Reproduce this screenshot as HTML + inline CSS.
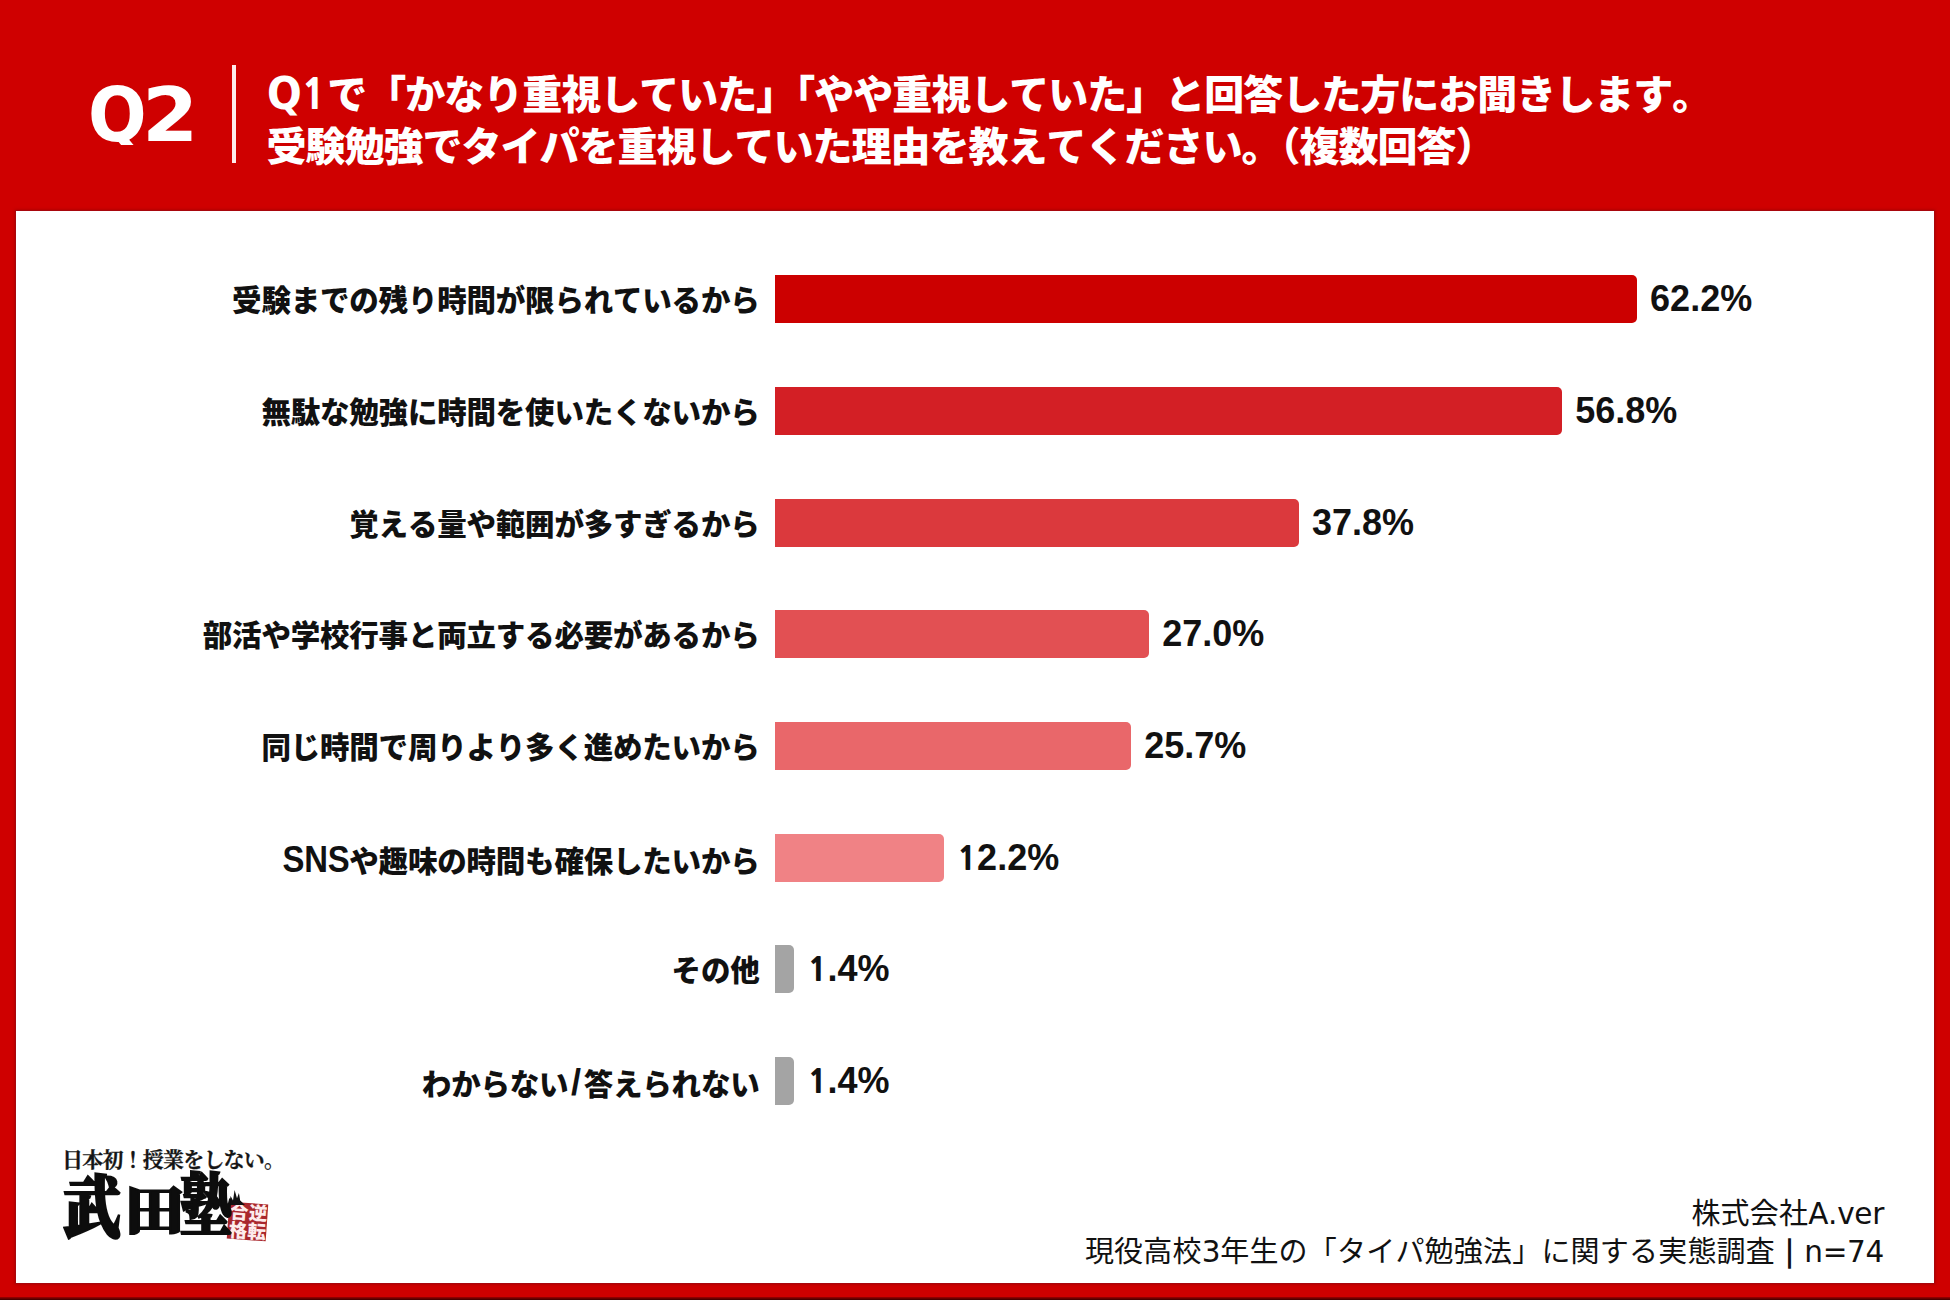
<!DOCTYPE html>
<html lang="ja">
<head>
<meta charset="utf-8">
<style>
*{margin:0;padding:0;box-sizing:border-box;}
html,body{width:1950px;height:1300px;overflow:hidden;}
body{background:#cf0000;position:relative;font-family:"Liberation Sans","Noto Sans CJK JP",sans-serif;}
.abs{position:absolute;white-space:nowrap;}
#panel{position:absolute;left:16px;top:211px;width:1918px;height:1072px;background:#fff;box-shadow:0 0 0 1px #a8070d,0 0 3px 1px rgba(120,0,0,.5);}
#botline{position:absolute;left:0;top:1297px;width:1950px;height:3px;background:linear-gradient(#a00000,#3a0000);}
.q1{font-size:47px;letter-spacing:-0.5px;}
.qq{font-family:"DejaVu Sans",sans-serif;font-size:44px;display:inline-block;transform:scaleX(.93);transform-origin:0 0;margin-right:-2px;}
.trim{margin-left:-20px;}
.lt{font-size:36.5px;display:inline-block;transform:scaleX(.9);transform-origin:100% 50%;}
.one{font-family:"NanumGothic","Liberation Sans",sans-serif;font-weight:800;font-size:33.5px;margin-right:-0.3px;}
.one1{font-family:"NanumGothic","Liberation Sans",sans-serif;font-weight:800;font-size:41px;margin-right:1.5px;}
.sl{font-size:36px;margin:0 3px 0 2.5px;}
.bar2{font-weight:900;position:relative;top:3.5px;-webkit-text-stroke:1.4px #111;}
.ft{font-family:"DejaVu Sans",sans-serif;font-size:29.5px;letter-spacing:-0.3px;}
.logo1{left:62px;top:1143px;font-family:"Noto Serif CJK JP","Noto Serif CJK SC",serif;font-size:21px;letter-spacing:-0.8px;color:#151515;line-height:30px;font-weight:700;-webkit-text-stroke:0.3px #151515;}
.logo2{font-family:"Noto Serif CJK JP","Noto Serif CJK SC",serif;font-weight:900;color:#0d0d0d;line-height:1;transform-origin:0 0;-webkit-text-stroke:2px #0d0d0d;}
#lg1{left:63px;top:1168px;font-size:58px;transform:scale(1,1.18);}
#lg2{left:125px;top:1182px;font-size:52px;transform:scale(1.14,1.0);}
#lg3{left:180px;top:1167px;font-size:56px;transform:scale(0.93,1.2);}
#stamp{position:absolute;left:227.5px;top:1203px;width:39px;height:37px;background:#a9272d;transform:rotate(4deg);}
#splash{position:absolute;left:229px;top:1190px;width:16px;height:15px;background:#111;clip-path:polygon(0 100%,10% 40%,25% 70%,35% 0,50% 55%,62% 20%,70% 70%,100% 100%);}
#stamp div{position:absolute;top:-0.5px;writing-mode:vertical-rl;font-family:"Noto Sans CJK JP",sans-serif;font-weight:900;font-size:18.5px;line-height:19px;color:#fdecec;}
.q2{top:70.5px;font-family:"DejaVu Sans",sans-serif;font-size:75px;font-weight:700;color:#fff;line-height:88px;}
#vline{position:absolute;left:232px;top:65px;width:4px;height:98px;background:#ffeaea;}
.title{text-spacing-trim:space-all;left:266.5px;font-size:40px;letter-spacing:-1px;font-weight:900;font-kerning:none;color:#fff;line-height:52px;font-family:"Liberation Sans","Noto Sans CJK JP",sans-serif;}
.lbl{right:1190.5px;font-size:29.5px;letter-spacing:-0.2px;margin-top:1.5px;font-weight:900;font-kerning:none;color:#111;line-height:48px;font-family:"Liberation Sans","Noto Sans CJK JP",sans-serif;}
.bar{position:absolute;left:775px;height:48px;border-radius:0 5px 5px 0;}
.val{font-size:36px;font-weight:700;color:#111;line-height:48px;}
.foot{right:66px;font-size:29px;letter-spacing:0.2px;font-kerning:none;color:#111;line-height:38px;font-family:"Liberation Sans","Noto Sans CJK JP",sans-serif;}
</style>
</head>
<body>
<div id="panel"></div>
<div id="botline"></div>
<div class="abs" style="left:87.7px;top:70.5px;height:74px;width:70px;overflow:hidden;"><div class="q2" style="position:absolute;left:0;top:0;transform:scaleX(.92);transform-origin:0 0;">Q</div></div><div class="abs q2" style="left:141.5px;transform:scaleX(1.08);transform-origin:0 0;">2</div>
<div id="vline"></div>
<div class="abs title" style="top:67px;"><span class="q1"><span class="qq">Q</span><span class="one1">1</span></span>で「かなり重視していた」<span class="trim">「</span>やや重視していた」と回答した方にお聞きします。</div>
<div class="abs title" style="top:120.5px;">受験勉強でタイパを重視していた理由を教えてください。<span class="trim">（</span>複数回答）</div>

<div class="abs lbl" style="top:275px;">受験までの残り時間が限られているから</div>
<div class="bar" style="top:275px;width:862.1px;background:#cc0000;"></div>
<div class="abs val" style="left:1650.1px;top:275px;">62.2%</div>

<div class="abs lbl" style="top:387px;">無駄な勉強に時間を使いたくないから</div>
<div class="bar" style="top:387px;width:787.2px;background:#d31f25;"></div>
<div class="abs val" style="left:1575.2px;top:387px;">56.8%</div>

<div class="abs lbl" style="top:499px;">覚える量や範囲が多すぎるから</div>
<div class="bar" style="top:499px;width:523.9px;background:#db393d;"></div>
<div class="abs val" style="left:1311.9px;top:499px;">37.8%</div>

<div class="abs lbl" style="top:610px;">部活や学校行事と両立する必要があるから</div>
<div class="bar" style="top:610px;width:374.2px;background:#e25053;"></div>
<div class="abs val" style="left:1162.2px;top:610px;">27.0%</div>

<div class="abs lbl" style="top:722px;">同じ時間で周りより多く進めたいから</div>
<div class="bar" style="top:722px;width:356.2px;background:#e9676a;"></div>
<div class="abs val" style="left:1144.2px;top:722px;">25.7%</div>

<div class="abs lbl" style="top:834px;"><span class="lt">SNS</span>や趣味の時間も確保したいから</div>
<div class="bar" style="top:834px;width:169.1px;background:#f08285;"></div>
<div class="abs val" style="left:957.1px;top:834px;"><span class="one">1</span>2.2%</div>

<div class="abs lbl" style="top:945px;">その他</div>
<div class="bar" style="top:945px;width:19.4px;background:#a4a4a4;"></div>
<div class="abs val" style="left:807.4px;top:945px;"><span class="one">1</span>.4%</div>

<div class="abs lbl" style="top:1057px;">わからない<span class="sl">/</span>答えられない</div>
<div class="bar" style="top:1057px;width:19.4px;background:#a4a4a4;"></div>
<div class="abs val" style="left:807.4px;top:1057px;"><span class="one">1</span>.4%</div>

<div class="abs foot" style="top:1194.5px;">株式会社<span class="ft">A.ver</span></div>
<div class="abs foot" style="top:1232.5px;">現役高校<span class="ft">3</span>年生の「タイパ勉強法」に関する実態調査<span class="bar2">｜</span><span class="ft">n=74</span></div>

<div class="abs logo1">日本初！授業をしない。</div>
<div id="stamp"><div style="right:0.5px;">逆転</div><div style="left:0.5px;">合格</div></div><div id="splash"></div>
<div class="abs logo2" id="lg1">武</div><div class="abs logo2" id="lg2">田</div><div class="abs logo2" id="lg3">塾</div>

</body>
</html>
